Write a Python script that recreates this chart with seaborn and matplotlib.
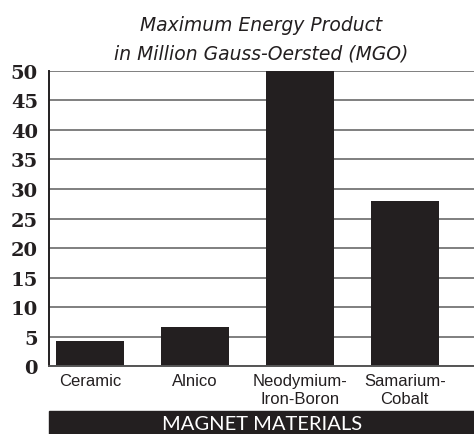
import matplotlib
matplotlib.use("Agg")
import matplotlib.pyplot as plt
import seaborn as sns
import pandas as pd
from matplotlib.patches import Rectangle

# values
materials = ["Ceramic", "Alnico", "Neodymium-\nIron-Boron", "Samarium-\nCobalt"]
energy_mgo = [4.2, 6.6, 50, 28]
y_ticks = [0, 5, 10, 15, 20, 25, 30, 35, 40, 45, 50]

df = pd.DataFrame({"material": materials, "mgo": energy_mgo})

sns.set_style("white")
ink = "#231f20"

fig = plt.figure(figsize=(4.74, 4.35), dpi=100)
ax = fig.add_axes([0.1034, 0.1563, 0.8966, 0.6782])

sns.barplot(data=df, x="material", y="mgo", color=ink, width=0.65,
            saturation=1, edgecolor=ink, linewidth=0, ax=ax)

ax.set_ylim(0, 50)
ax.set_xlim(-0.39, 3.66)
ax.set_yticks(y_ticks)
ax.set_yticklabels([str(t) for t in y_ticks], family="DejaVu Serif",
                   fontweight="bold", fontsize=14, color=ink)
ax.tick_params(axis="y", length=0, pad=8)
ax.tick_params(axis="x", length=0, pad=5, labelsize=12, labelcolor=ink)
for lab in ax.get_xticklabels():
    lab.set_family("Liberation Sans")
    lab.set_linespacing(1.25)

ax.yaxis.grid(True, color="#6a6a6a", linewidth=1.2)
ax.set_axisbelow(True)
ax.set_xlabel("")
ax.set_ylabel("")

for side in ["top", "right"]:
    ax.spines[side].set_visible(False)
ax.spines["left"].set_color(ink)
ax.spines["left"].set_linewidth(1.4)
ax.spines["bottom"].set_color("#555555")
ax.spines["bottom"].set_linewidth(1.4)

ax.set_title("Maximum Energy Product\nin Million Gauss-Oersted (MGO)",
             fontsize=13.5, fontstyle="italic", color=ink, linespacing=1.65,
             pad=9, family="DejaVu Sans")

# dark banner along the bottom
fig.patches.append(Rectangle((0.1034, 0.0), 0.8966, 23 / 435,
                             transform=fig.transFigure, color=ink, zorder=0))
fig.text(0.553, 1.5 / 435, "MAGNET MATERIALS", color="white",
         ha="center", va="bottom", fontsize=14.5, zorder=5,
         family=["Lato", "DejaVu Sans"])

fig.savefig("out.png", dpi=100)
